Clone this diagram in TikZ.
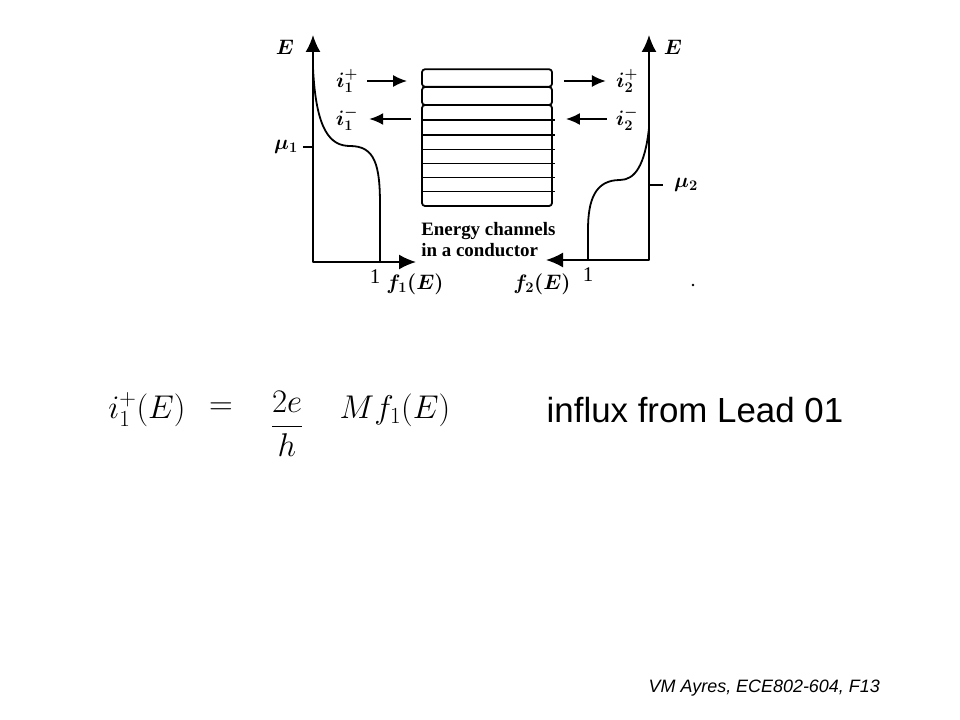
\documentclass[tikz,border=0pt]{standalone}
\usepackage{fix-cm}
\usepackage{amsmath}
\usepackage{fontspec}
\setmainfont{Liberation Serif}
\newfontfamily\slidefont{Liberation Sans}
\usetikzlibrary{arrows.meta,positioning}

\begin{document}
\begin{tikzpicture}[x=1bp,y=-1bp,line join=bevel,
  >={Latex[length=17bp,width=15bp]},
  axis/.style={<->,line width=1.8bp},
  flow/.style={-{Latex[length=14bp,width=12bp]},line width=1.8bp},
  curve/.style={line width=1.8bp},
  channel/.style={draw,line width=1.8bp,rounded corners=3bp,minimum width=130bp,inner sep=0pt},
  lbl/.style={inner sep=1bp,font=\fontsize{21}{23}\selectfont\boldmath},
  hand/.style={inner sep=0pt,font=\fontsize{33}{38}\selectfont},
  ]
  \useasboundingbox (0,0) rectangle (960,720);
%%
  % Node: axes corners and tips
  \coordinate (o1) at (313,262);
  \coordinate (e1) at (313,35);
  \coordinate (x1) at (416,262);
  \coordinate (o2) at (649,260);
  \coordinate (e2) at (649,35);
  \coordinate (x2) at (546,260);
  % Node: channels
  \node[channel,minimum height=17.5bp] (ch1) at (487,78) {};
  \node[channel,minimum height=18bp] (ch2) at (487,96) {};
  \node[channel,minimum height=101bp] (chrest) at (487,155.5) {};
  \foreach \y in {120,135,149.5,163.5,177.5,191.5}
    \draw[curve] (422,\y) -- (555,\y);
  \node[below right=15bp and 0bp of chrest.south west,align=left,inner sep=0pt,
    font=\fontsize{19}{21}\selectfont\bfseries] (caption) {Energy channels\\in a conductor};
  % Node: labels
  \node[lbl] (lblE1) at (285,47) {$E$};
  \node[lbl] (lblmu1) at (286,147) {$\mu_1$};
  \node[lbl] (lblone1) at (375,277) {1};
  \node[lbl] (lblf1) at (415,284) {$f_1(E)$};
  \node[lbl] (lblE2) at (673,47) {$E$};
  \node[lbl] (lblmu2) at (686,185) {$\mu_2$};
  \node[lbl] (lblone2) at (588,275) {1};
  \node[lbl] (lblf2) at (542,284) {$f_2(E)$};
  \node[lbl] (lblip1) at (347,81) {$i_1^+$};
  \node[lbl] (lblim1) at (347,119) {$i_1^-$};
  \node[lbl] (lblip2) at (627,81) {$i_2^+$};
  \node[lbl] (lblim2) at (627,119) {$i_2^-$};
  % Edge: axes and ticks
  \draw[axis] (e1) -- (o1) -- (x1);
  \draw[axis] (e2) -- (o2) -- (x2);
  \draw[curve,shorten <=4bp] (lblmu1.east) -- (o1 |- lblmu1.east);
  \draw[curve,shorten >=10bp] (o2 |- lblmu2.west) -- (lblmu2.west);
  % Edge: f1 and f2
  \draw[curve] (313,68) .. controls (316,130) and (330,146) .. (350,146)
    .. controls (375,146) and (380,165) .. (380,205) -- (380,262);
  \draw[curve] (649,128) .. controls (645,165) and (635,180) .. (620,180)
    .. controls (595,180) and (588,200) .. (588,230) -- (588,260);
  % Edge: currents
  \draw[flow,shorten <=8bp,shorten >=14bp] (lblip1.east) -- (ch1.west |- lblip1.east);
  \draw[flow,shorten <=10bp,shorten >=10bp] (chrest.west |- lblim1.east) -- (lblim1.east);
  \draw[flow,shorten <=11bp,shorten >=9bp] (ch1.east |- lblip2.west) -- (lblip2.west);
  \draw[flow,shorten <=8bp,shorten >=13bp] (lblim2.west) -- (chrest.east |- lblim2.west);
  \fill (693,285) circle (1.4bp);
  % Node: handwritten line
  \node[hand] (lhs) at (147,410) {$i_1^+(E)$};
  \node[hand] (eq) at (221,409) {$=$};
  \node[hand] (frac) at (287,424) {$\dfrac{2e}{h}$};
  \node[hand] (rhs) at (395,410) {$M f_1(E)$};
  \node[hand,font=\slidefont\fontsize{35}{40}\selectfont] (influx) at (695,410) {influx from Lead 01};
  % Node: footer
  \node[anchor=east,inner sep=0pt,font=\slidefont\itshape\fontsize{18}{20}\selectfont] (footer) at (880,688) {VM Ayres, ECE802-604, F13};
%
\end{tikzpicture}
\end{document}
